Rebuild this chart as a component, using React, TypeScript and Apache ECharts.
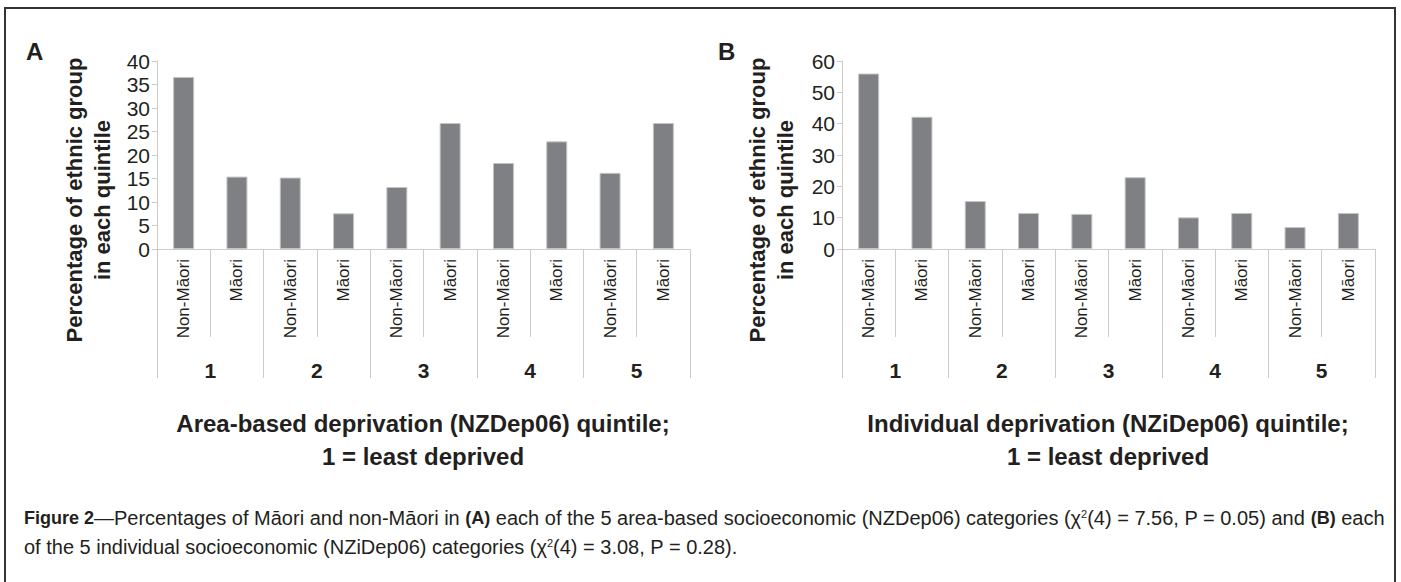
import React, { useEffect, useRef } from "react";
import * as echarts from "echarts";

const ethnicCategories = [
  "Non-Māori", "Māori", "Non-Māori", "Māori", "Non-Māori",
  "Māori", "Non-Māori", "Māori", "Non-Māori", "Māori",
];
const quintiles = ["1", "2", "3", "4", "5"];
const areaValues = [36.6, 15.4, 15.2, 7.6, 13.2, 26.8, 18.3, 22.9, 16.2, 26.8];
const individualValues = [56.0, 42.2, 15.3, 11.5, 11.2, 22.9, 10.1, 11.5, 7.0, 11.5];
const yTitle = "Percentage of ethnic group\nin each quintile";
const xTitleA = "Area-based deprivation (NZDep06) quintile;\n1 = least deprived";
const xTitleB = "Individual deprivation (NZiDep06) quintile;\n1 = least deprived";

const NARROW = "'Liberation Sans Narrow', 'Arial Narrow', 'Liberation Sans', sans-serif";
const SANS = "'Liberation Sans', Arial, sans-serif";
const TEXT = "#231f20";
const AXIS = "#cccccc";
const BAR = "#7f8084";

export default function App() {
  const ref = useRef<HTMLDivElement>(null);
  useEffect(() => {
    if (!ref.current) return;
    const chart = echarts.init(ref.current, null, { renderer: "svg" });
    const grids = [
      { left: 157, top: 61, width: 533, height: 188 },
      { left: 842, top: 61, width: 533, height: 188 },
    ];
    const xAxes: any[] = [];
    const yAxes: any[] = [];
    [0, 1].forEach((g) => {
      xAxes.push({
        type: "category",
        gridIndex: g,
        data: ethnicCategories,
        position: "bottom",
        axisLine: { show: true, lineStyle: { color: AXIS, width: 1 } },
        axisTick: { show: true, length: 88, alignWithLabel: false, lineStyle: { color: AXIS } },
        axisLabel: {
          interval: 0,
          rotate: 90,
          margin: 10,
          fontSize: 17,
          fontFamily: SANS,
          color: TEXT,
        },
      });
      xAxes.push({
        type: "category",
        gridIndex: g,
        data: quintiles,
        position: "bottom",
        axisLine: { show: false },
        axisTick: { show: true, length: 129, alignWithLabel: false, lineStyle: { color: AXIS } },
        axisLabel: {
          interval: 0,
          margin: 111,
          fontSize: 21,
          fontWeight: "bold",
          fontFamily: NARROW,
          color: TEXT,
          lineHeight: 20,
        },
      });
      yAxes.push({
        type: "value",
        gridIndex: g,
        min: 0,
        max: g === 0 ? 40 : 60,
        interval: g === 0 ? 5 : 10,
        axisLine: { show: true, lineStyle: { color: AXIS } },
        axisTick: { show: true, length: 5, lineStyle: { color: AXIS } },
        splitLine: { show: false },
        axisLabel: { margin: 7, fontSize: 21, fontFamily: NARROW, color: TEXT },
      });
    });

    const yTitleText = (cx: number) => ({
      type: "text",
      x: cx,
      y: 200,
      rotation: Math.PI / 2,
      style: {
        text: yTitle,
        font: `bold 22px ${SANS}`,
        fill: TEXT,
        align: "center",
        verticalAlign: "middle",
        lineHeight: 28,
      },
    });

    const xTitleText = (cx: number, text: string) => ({
      type: "text",
      x: cx,
      y: 440,
      style: {
        text,
        font: `bold 24px ${NARROW}`,
        fill: TEXT,
        align: "center",
        verticalAlign: "middle",
        lineHeight: 33,
      },
    });

    const capRich = {
      b: { fontFamily: SANS, fontWeight: "bold", fontSize: 18, fill: TEXT },
      n: { fontFamily: NARROW, fontSize: 20, fill: TEXT },
      s: { fontFamily: NARROW, fontSize: 11, fill: TEXT, verticalAlign: "top", padding: [0, 0, 8, 0] },
    };

    chart.setOption({
      animation: false,
      backgroundColor: "#ffffff",
      grid: grids,
      xAxis: xAxes,
      yAxis: yAxes,
      series: [
        {
          type: "bar",
          xAxisIndex: 0,
          yAxisIndex: 0,
          data: areaValues,
          barWidth: 21,
          itemStyle: { color: BAR, borderColor: "#c4c4c6", borderWidth: 1 },
        },
        {
          type: "bar",
          xAxisIndex: 2,
          yAxisIndex: 1,
          data: individualValues,
          barWidth: 21,
          itemStyle: { color: BAR, borderColor: "#c4c4c6", borderWidth: 1 },
        },
      ],
      graphic: [
        {
          type: "rect",
          shape: { x: 5, y: 8, width: 1390, height: 600 },
          style: { fill: "none", stroke: "#333333", lineWidth: 2 },
        },
        { type: "text", x: 26, y: 51, style: { text: "A", font: `bold 24px ${SANS}`, fill: TEXT, verticalAlign: "middle" } },
        { type: "text", x: 718, y: 51, style: { text: "B", font: `bold 24px ${SANS}`, fill: TEXT, verticalAlign: "middle" } },
        yTitleText(88),
        yTitleText(771),
        xTitleText(423, xTitleA),
        xTitleText(1108, xTitleB),
        {
          type: "text",
          x: 24,
          y: 518,
          style: {
            text:
              "{b|Figure 2}{n|—Percentages of Māori and non-Māori in }{b|(A)}{n| each of the 5 area-based socioeconomic (NZDep06) categories (χ}{s|2}{n|(4) = 7.56, P = 0.05) and }{b|(B)}{n| each}",
            rich: capRich,
            verticalAlign: "middle",
          },
        },
        {
          type: "text",
          x: 24,
          y: 547,
          style: {
            text:
              "{n|of the 5 individual socioeconomic (NZiDep06) categories (χ}{s|2}{n|(4) = 3.08, P = 0.28).}",
            rich: capRich,
            verticalAlign: "middle",
          },
        },
      ],
    });
    return () => chart.dispose();
  }, []);
  return (
    <div
      ref={ref}
      style={{ position: "absolute", left: 0, top: 0, width: 1401, height: 582, background: "#fff" }}
    />
  );
}
